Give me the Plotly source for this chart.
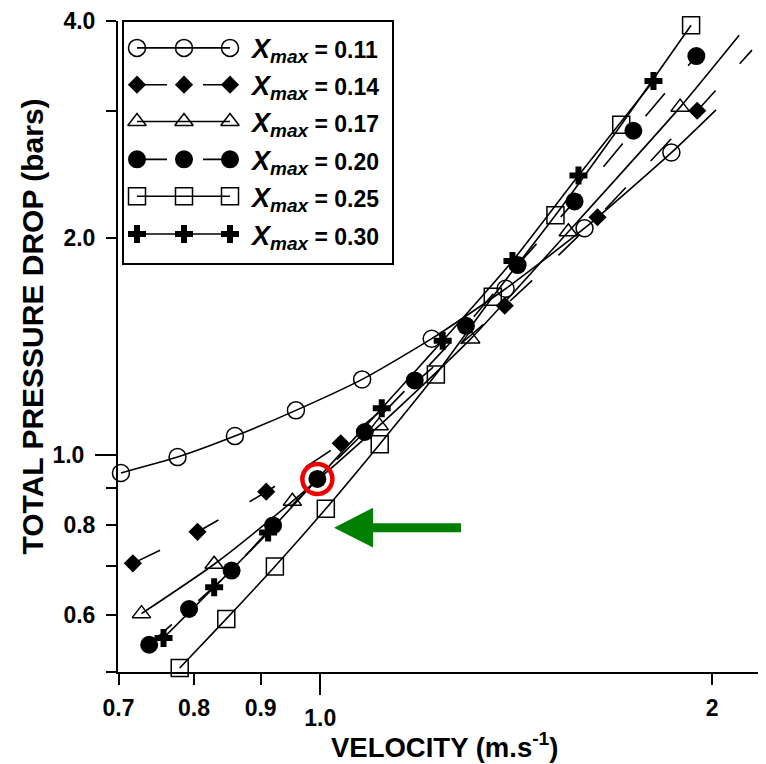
import math
import plotly.graph_objects as go

# ---------------- data ----------------
labels = ["0.11", "0.14", "0.17", "0.20", "0.25", "0.30"]

v_011 = [0.703, 0.777, 0.860, 0.958, 1.077, 1.218, 1.388, 1.596, 1.861]
p_011 = [0.944, 0.993, 1.062, 1.153, 1.273, 1.450, 1.701, 2.064, 2.629]

v_014 = [0.718, 0.805, 0.909, 1.037, 1.386, 1.633, 1.948]
p_014 = [0.707, 0.782, 0.889, 1.038, 1.611, 2.138, 3.005]

v_017 = [0.729, 0.829, 0.952, 1.110, 1.305, 1.551, 1.890]
p_017 = [0.602, 0.705, 0.862, 1.098, 1.449, 2.041, 3.040]

v_020 = [0.739, 0.793, 0.855, 0.920, 0.995, 1.082, 1.182, 1.294, 1.418, 1.568, 1.740, 1.945]
p_020 = [0.545, 0.611, 0.691, 0.798, 0.926, 1.076, 1.269, 1.511, 1.835, 2.249, 2.819, 3.579]

v_025 = [0.780, 0.847, 0.923, 1.010, 1.111, 1.227, 1.357, 1.516, 1.703, 1.927]
p_025 = [0.506, 0.592, 0.700, 0.842, 1.035, 1.293, 1.658, 2.151, 2.873, 3.949]

v_030 = [0.758, 0.829, 0.912, 1.115, 1.242, 1.405, 1.579, 1.803]
p_030 = [0.557, 0.655, 0.780, 1.161, 1.441, 1.859, 2.443, 3.305]

# where the fitted curves end beyond the last point
fit_end_v = [2.014, 2.146, 2.098, None, None, None]
fit_end_p = [3.014, 3.648, 3.826, None, None, None]

# highlighted point (red ring) = 5th point of X_max = 0.20
highlight_series = 3
highlight_index = 4

x_tick_vals = [0.7, 0.8, 0.9, 2]
x_tick_text = ["0.7", "0.8", "0.9", "2"]
y_tick_vals = [0.6, 0.8, 2.0, 4.0]
y_tick_text = ["0.6", "0.8", "2.0", "4.0"]
y_minor_vals = [0.5, 0.7, 0.9, 3.0]
major_tick = [1.0]
major_text = ["1.0"]

x_limits = [0.7, 2.2]
y_limits = [0.5, 4.0]

# ---------------- styling ----------------
V = [v_011, v_014, v_017, v_020, v_025, v_030]
P = [p_011, p_014, p_017, p_020, p_025, p_030]
symbols = ["circle-open", "diamond", "triangle-up-open", "circle", "square-open", "cross"]
sizes = [17, 14, 16, 18, 17, 15]
dashes = ["solid", "30px,36px", "solid", "30px,36px", "solid", "solid"]

FONT = "Arial, 'Liberation Sans', sans-serif"

# the page body has an 8px margin: lay out in screen pixels, subtract it
OFF = 8
SW, SH = 766, 764                 # screen size
PL, PR, PT, PB = 118, 766, 18, 672  # plot area on screen
W, H = SW - OFF, SH - OFF
ML, MT = PL - OFF, PT - OFF
MR, MB = W - (PR - OFF), H - (PB - OFF)
PW, PH = PR - PL, PB - PT

EPS = 0.0004  # keeps the end ticks (0.5, 4.0, 0.7) inside the range
xr = [math.log10(x_limits[0]) - EPS, math.log10(x_limits[1])]
yr = [math.log10(y_limits[0]) - EPS, math.log10(y_limits[1]) + EPS]


def px(x):
    return (x - PL) / PW


def py(y):
    return (PB - y) / PH


def marker_style(i):
    mk = dict(symbol=symbols[i], size=sizes[i], color="black")
    if symbols[i].endswith("open"):
        mk["line"] = dict(color="black", width=1.5)
    else:
        mk["line"] = dict(width=0)
    return mk


fig = go.Figure()

for i in range(6):
    lx = list(V[i])
    ly = list(P[i])
    if fit_end_v[i] is not None:
        lx.append(fit_end_v[i])
        ly.append(fit_end_p[i])
    fig.add_trace(go.Scatter(
        x=lx, y=ly, mode="lines", showlegend=False, hoverinfo="skip",
        line=dict(color="black", width=1.6, dash=dashes[i], shape="spline", smoothing=0.6)))

for i in range(6):
    fig.add_trace(go.Scatter(
        x=V[i], y=P[i], mode="markers", name="X_max = " + labels[i],
        showlegend=False, cliponaxis=False, marker=marker_style(i)))

# red ring around the highlighted point
fig.add_trace(go.Scatter(
    x=[V[highlight_series][highlight_index]], y=[P[highlight_series][highlight_index]],
    xaxis="x3", yaxis="y3", mode="markers", showlegend=False, cliponaxis=False,
    marker=dict(symbol="circle-open", size=30, color="#ee0000",
                line=dict(color="#ee0000", width=4.5))))

# custom legend (marker - line - marker - line - marker) in a pixel overlay axis
leg_rows = [45, 82, 119, 157, 194, 232]
leg_x = [137, 184, 230]
for i in range(6):
    fig.add_trace(go.Scatter(
        x=leg_x, y=[leg_rows[i]] * 3, xaxis="x2", yaxis="y2", mode="lines+markers",
        showlegend=False, cliponaxis=False, hoverinfo="skip",
        line=dict(color="black", width=1.6, dash=dashes[i]), marker=marker_style(i)))

annotations = []
for i in range(6):
    annotations.append(dict(
        x=px(248), y=py(leg_rows[i] + 3), xref="paper", yref="paper",
        xanchor="left", yanchor="middle", showarrow=False,
        text="<b><i><span style='font-size:27px'>X</span><sub><span style='font-size:19px'>max</span></sub></i> = "
             + labels[i] + "</b>",
        font=dict(family=FONT, size=23, color="black")))

annotations.append(dict(
    x=px(33), y=py(325), xref="paper", yref="paper", textangle=-90,
    xanchor="center", yanchor="middle", showarrow=False,
    text="<b>TOTAL PRESSURE DROP (bars)</b>",
    font=dict(family=FONT, size=30, color="black")))
annotations.append(dict(
    x=px(445), y=py(746), xref="paper", yref="paper",
    xanchor="center", yanchor="middle", showarrow=False,
    text="<b>VELOCITY (m.s<sup>-1</sup>)</b>",
    font=dict(family=FONT, size=27.5, color="black")))

shapes = [
    dict(type="rect", xref="paper", yref="paper", x0=px(123), x1=px(393), y0=py(262), y1=py(18),
         line=dict(color="black", width=2), fillcolor="rgba(0,0,0,0)", layer="above"),
    dict(type="path", xref="paper", yref="paper",
         path="M{:.5f},{:.5f} L{:.5f},{:.5f} L{:.5f},{:.5f} L{:.5f},{:.5f} L{:.5f},{:.5f} L{:.5f},{:.5f} L{:.5f},{:.5f} Z".format(
             px(334), py(527), px(373), py(507), px(373), py(522.5), px(461), py(522.5),
             px(461), py(531.5), px(373), py(531.5), px(373), py(547)),
         fillcolor="#008000", line=dict(width=0), layer="above"),
]

tickfont = dict(family=FONT, size=23, color="black", weight="bold")

fig.update_layout(
    width=W, height=H, margin=dict(l=ML, r=MR, t=MT, b=MB, pad=0),
    paper_bgcolor="white", plot_bgcolor="white", showlegend=False,
    xaxis=dict(type="log", range=xr, tickvals=x_tick_vals, ticktext=x_tick_text,
               ticks="outside", ticklen=11, tickwidth=2, tickcolor="black",
               showline=True, linewidth=2, linecolor="black", showgrid=False, zeroline=False,
               tickfont=tickfont, ticklabelstandoff=3, ticklabeloverflow="allow"),
    yaxis=dict(type="log", range=yr, tickvals=y_tick_vals, ticktext=y_tick_text,
               ticks="outside", ticklen=10, tickwidth=2, tickcolor="black",
               minor=dict(tickvals=y_minor_vals, ticks="outside", ticklen=10, tickwidth=2,
                          tickcolor="black", showgrid=False),
               showline=True, linewidth=2, linecolor="black", showgrid=False, zeroline=False,
               tickfont=tickfont, ticklabelstandoff=6, ticklabeloverflow="allow"),
    xaxis3=dict(type="log", range=xr, overlaying="x", anchor="y3", side="bottom",
                tickvals=major_tick, ticktext=major_text, ticks="outside", ticklen=22,
                tickwidth=2, tickcolor="black", showline=False, showgrid=False,
                zeroline=False, tickfont=tickfont, ticklabelstandoff=3),
    yaxis3=dict(type="log", range=yr, overlaying="y", anchor="x3", side="left",
                tickvals=major_tick, ticktext=major_text, ticks="outside", ticklen=22,
                tickwidth=2, tickcolor="black", showline=False, showgrid=False,
                zeroline=False, tickfont=tickfont, ticklabelstandoff=6),
    xaxis2=dict(range=[PL, PR], overlaying="x", anchor="y2", visible=False),
    yaxis2=dict(range=[PB, PT], overlaying="y", anchor="x2", visible=False),
    annotations=annotations, shapes=shapes,
)

fig.write_html("out.html")
